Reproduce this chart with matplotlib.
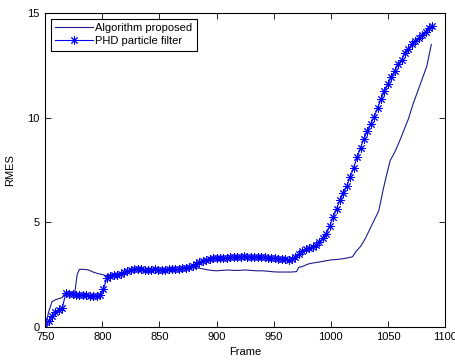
import numpy as np
import matplotlib.pyplot as plt

plt.rcParams['font.family'] = ['Liberation Sans', 'DejaVu Sans']
plt.rcParams['font.size'] = 8

# Algorithm proposed (thin line)
alg_frames = [750, 753, 756, 759, 762, 765, 767, 770, 773, 776, 778, 780, 784, 788, 792,
              796, 800, 803, 806, 810, 815, 820, 825, 830, 835, 840, 845, 850, 855, 860,
              865, 870, 875, 880, 885, 890, 895, 900, 905, 910, 915, 920, 925, 930, 935,
              940, 945, 950, 955, 960, 965, 970, 972, 975, 980, 983, 990, 995, 1000, 1005,
              1010, 1015, 1019, 1022, 1026, 1030, 1034, 1038, 1042, 1046, 1049, 1052, 1056,
              1060, 1064, 1068, 1072, 1076, 1080, 1084, 1088]
alg_rmes = [0.0, 0.7, 1.2, 1.3, 1.35, 1.4, 1.6, 1.62, 1.62, 1.65, 2.5, 2.75, 2.75, 2.72, 2.62,
            2.55, 2.5, 2.45, 2.48, 2.50, 2.56, 2.62, 2.70, 2.76, 2.76, 2.73, 2.76, 2.73, 2.74, 2.77,
            2.75, 2.80, 2.82, 2.85, 2.80, 2.75, 2.70, 2.68, 2.70, 2.72, 2.70, 2.70, 2.72, 2.70, 2.68,
            2.68, 2.66, 2.63, 2.62, 2.62, 2.62, 2.64, 2.85, 2.88, 3.00, 3.04, 3.10, 3.15, 3.20, 3.22,
            3.25, 3.30, 3.35, 3.60, 3.84, 4.20, 4.65, 5.10, 5.55, 6.60, 7.30, 7.95, 8.35,
            8.85, 9.40, 9.95, 10.65, 11.25, 11.85, 12.45, 13.50]

# PHD particle filter (every 3rd frame)
phd_frames = np.arange(750, 1090, 3)
phd_rmes = [0.0, 0.3, 0.5, 0.7, 0.8, 0.9, 1.6, 1.58, 1.55, 1.54, 1.52, 1.53, 1.50, 1.49, 1.48,
            1.47, 1.52, 1.8, 2.35, 2.45, 2.48, 2.50, 2.55, 2.60, 2.65, 2.70, 2.75, 2.77, 2.76,
            2.74, 2.72, 2.74, 2.76, 2.74, 2.72, 2.74, 2.77, 2.76, 2.75, 2.78, 2.80, 2.83, 2.88,
            2.93, 3.00, 3.08, 3.15, 3.20, 3.25, 3.28, 3.30, 3.31, 3.30, 3.30, 3.32, 3.33, 3.35,
            3.36, 3.37, 3.36, 3.35, 3.36, 3.35, 3.34, 3.32, 3.30, 3.28, 3.27, 3.26, 3.25, 3.22,
            3.20, 3.25, 3.35, 3.50, 3.62, 3.70, 3.75, 3.80, 3.90, 4.05, 4.25, 4.45, 4.80, 5.25,
            5.65, 6.05, 6.40, 6.75, 7.15, 7.60, 8.10, 8.55, 9.00, 9.35, 9.70, 10.05, 10.45, 10.90,
            11.25, 11.60, 11.95, 12.25, 12.55, 12.75, 13.10, 13.30, 13.50, 13.65, 13.80, 13.95,
            14.10, 14.30, 14.40]

fig = plt.figure(figsize=(4.56, 3.6), dpi=100)
ax = fig.add_axes([0.099, 0.092, 0.877, 0.872])

ax.plot(alg_frames, alg_rmes, color='#1c1c8a', linewidth=0.8, label='Algorithm proposed')
# MATLAB-style '*' marker: plus and cross together
ax.plot(phd_frames, phd_rmes, color='#0000ff', linewidth=0.8, marker=(8, 2, 0), markersize=6,
        markeredgewidth=0.7, label='PHD particle filter')

ax.set_xlim(750, 1100)
ax.set_ylim(0, 15)
ax.set_xticks(np.arange(750, 1101, 50))
ax.set_yticks([0, 5, 10, 15])
ax.tick_params(direction='in', length=4, width=0.6, top=True, right=True)
ax.tick_params(axis='x', pad=3.5)
ax.tick_params(axis='y', pad=4)
for s in ax.spines.values():
    s.set_linewidth(0.8)
ax.set_xlabel('Frame', labelpad=4)
ax.set_ylabel('RMES', labelpad=9)

leg = ax.legend(loc='upper left', fancybox=False, framealpha=1, edgecolor='black',
                handlelength=3.4, borderaxespad=0.5, borderpad=0.4, labelspacing=0.3,
                handletextpad=0.2)
leg.get_frame().set_linewidth(0.8)

fig.savefig('out.png', dpi=100)
